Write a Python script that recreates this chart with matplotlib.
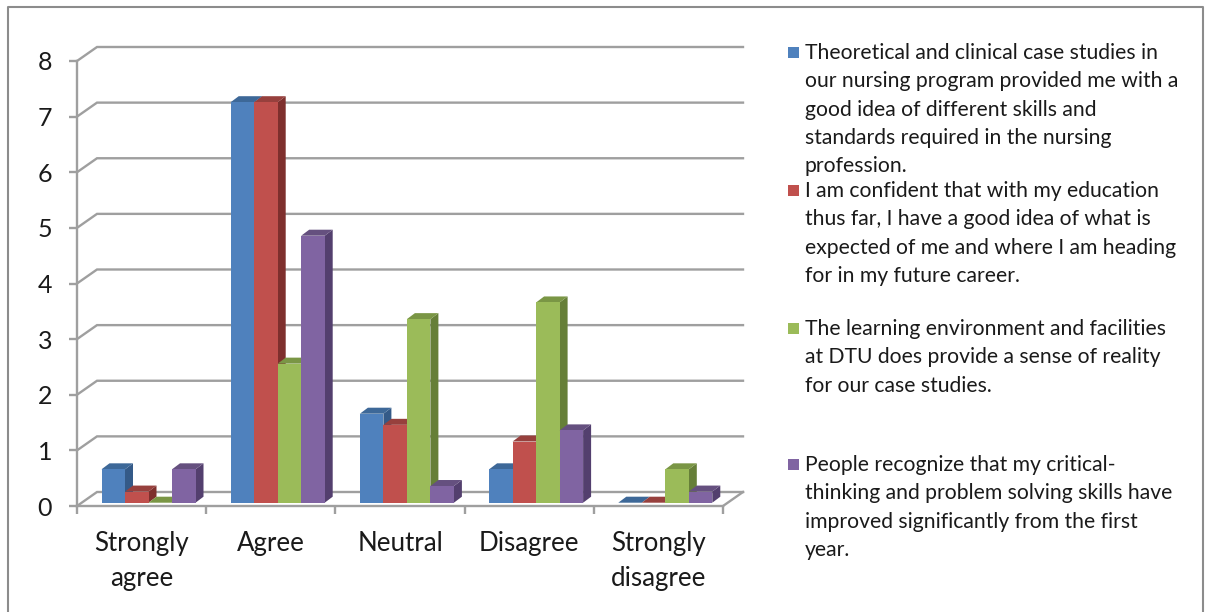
import matplotlib as mpl

mpl.use('Agg')

import matplotlib.pyplot as plt
import numpy as np
from matplotlib.lines import Line2D
from matplotlib.patches import Rectangle

categories = ["Strongly\nagree", "Agree", "Neutral", "Disagree", "Strongly\ndisagree"]
case_studies = [0.6, 7.2, 1.6, 0.6, 0]
confident = [0.2, 7.2, 1.4, 1.1, 0]
environment = [0, 2.5, 3.3, 3.6, 0.6]
critical = [0.6, 4.8, 0.3, 1.3, 0.2]
y_ticks = [0, 1, 2, 3, 4, 5, 6, 7, 8]

legend_labels = [
    "Theoretical and clinical case studies in\nour nursing program provided me with a\n"
    "good idea of different skills and\nstandards required in the nursing\nprofession.",
    "I am confident that with my education\nthus far, I have a good idea of what is\n"
    "expected of me and where I am heading\nfor in my future career.",
    "The learning environment and facilities\nat DTU does provide a sense of reality\n"
    "for our case studies.",
    "People recognize that my critical-\nthinking and problem solving skills have\n"
    "improved significantly from the first\nyear.",
]

W, H = 1208, 612
GRID = '#9f9f9f'
TEXT = '#1a1a1a'
FRONT = ['#4f81bd', '#c0504d', '#9bbb59', '#8064a2']
TOP = ['#3d6898', '#97403d', '#7a9645', '#65507f']
SIDE = ['#345a88', '#7e2f2d', '#667f38', '#533f6e']
LEGEND_Y = [53, 191, 329, 465]

# axes box is the front plane of the 3D chart, in pixels
LEFT, RIGHT, BOTTOM, TOP_PX = 77, 723, 506, 61
PX_X = (RIGHT - LEFT) / len(categories)
PX_Y = (BOTTOM - TOP_PX) / y_ticks[-1]


def fy(y):
    return 1 - y / H


def draw_walls(ax):
    dx, dy = 20 / PX_X, 14 / PX_Y
    x_end = len(categories)
    for v in y_ticks:
        ax.plot([0, dx, x_end + dx], [v, v + dy, v + dy], color=GRID, lw=1.7,
                clip_on=False, zorder=1, solid_joinstyle='miter')
    ax.plot([x_end, x_end + dx], [0, dy], color=GRID, lw=1.7, clip_on=False, zorder=1)


def draw_bars(ax, series):
    width = 23.5 / PX_X
    base = 3.3 / PX_Y
    dx, dy = 8 / PX_X, 6 / PX_Y
    for i in range(len(categories)):
        x0 = i + 24.5 / PX_X
        for j, values in enumerate(series):
            left = x0 + j * width
            right = left + width
            top = base + values[i]
            z = 3 + j * 0.1
            if values[i] > 0:
                ax.fill([right, right + dx, right + dx, right],
                        [base, base + dy, top + dy, top],
                        color=SIDE[j], lw=0, clip_on=False, zorder=z)
            ax.fill([left, left + dx, right + dx, right],
                    [top, top + dy, top + dy, top],
                    color=TOP[j], lw=0, clip_on=False, zorder=z)
            if values[i] > 0:
                ax.bar(left, values[i], width, bottom=base, align='edge',
                       color=FRONT[j], lw=0, clip_on=False, zorder=z)


def draw_legend(fig):
    for label, y, color in zip(legend_labels, LEGEND_Y, FRONT):
        fig.add_artist(Rectangle((788 / W, fy(y + 5)), 11 / W, 11 / H, color=color,
                                 lw=0, transform=fig.transFigure))
        # first line is centred on the marker
        fig.text(805 / W, fy(y - 10), label, fontsize=15.2, color=TEXT, va='top',
                 ha='left', linespacing=1.52)


def main():
    plt.rcParams['font.family'] = ['Lato', 'DejaVu Sans']
    fig = plt.figure(figsize=(W / 100, H / 100), dpi=100, facecolor='white')

    # outer frame of the chart
    fig.add_artist(Line2D([8 / W, 8 / W, 1203 / W, 1203 / W],
                          [0, fy(7), fy(7), 0], color='#8c8c8c', lw=1.5))

    ax = fig.add_axes([LEFT / W, fy(BOTTOM), (RIGHT - LEFT) / W, (BOTTOM - TOP_PX) / H])
    ax.set_xlim(0, len(categories))
    ax.set_ylim(y_ticks[0], y_ticks[-1])
    ax.patch.set_alpha(0)

    for side in ['top', 'right']:
        ax.spines[side].set_visible(False)
    for side in ['left', 'bottom']:
        ax.spines[side].set_color(GRID)
        ax.spines[side].set_linewidth(1.7)
        ax.spines[side].set_zorder(2)

    ax.set_yticks(y_ticks)
    ax.tick_params(axis='y', length=6, width=1.7, color=GRID, pad=12,
                   labelsize=18, labelcolor=TEXT)
    ax.set_xticks(range(len(categories) + 1))
    ax.set_xticklabels([])
    ax.set_xticks(np.arange(len(categories)) + 0.5, categories, minor=True)
    ax.tick_params(axis='x', which='major', length=6, width=1.7, color=GRID)
    ax.tick_params(axis='x', which='minor', length=0, pad=18, labelsize=18.6,
                   labelcolor=TEXT)
    for label in ax.get_xticklabels(minor=True):
        label.set_linespacing(1.5)

    draw_walls(ax)
    draw_bars(ax, [case_studies, confident, environment, critical])
    draw_legend(fig)

    fig.savefig('out.png', dpi=100)


if __name__ == '__main__':
    plt.close('all')
    main()
